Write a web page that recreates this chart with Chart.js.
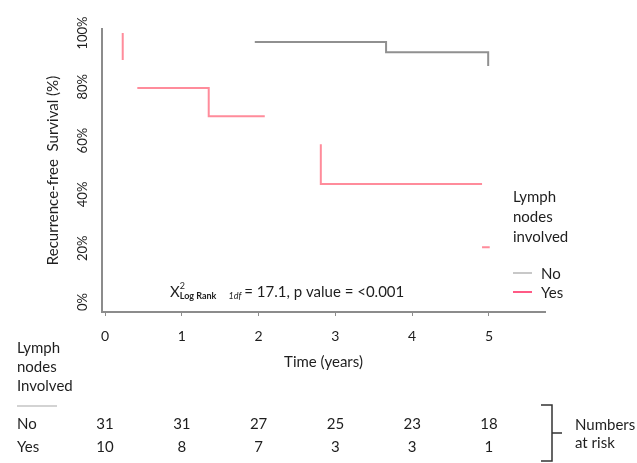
<!DOCTYPE html>
<html>
<head>
<meta charset="utf-8">
<script src="https://cdn.jsdelivr.net/npm/chart.js@4.4.1/dist/chart.umd.min.js"></script>
<style>
  html, body { margin: 0; padding: 0; background: #fff; }
  canvas { display: block; }
</style>
</head>
<body>
<canvas id="kmChart" width="637" height="463"></canvas>
<script>
const FONT = "Lato, 'Open Sans', sans-serif";
const TEXT = "#1e1e1e";

// axis ticks
const timeTicks = [0, 1, 2, 3, 4, 5];
const survTicks = [0, 20, 40, 60, 80, 100];

// survival curves (null = gap in the drawn curve)
const noTime = [1.95, 3.66, 3.66, 4.99, 4.99];
const noSurv = [96.7, 96.7, 92.9, 92.9, 87.7];
const yesTime = [0.23, 0.23, null, 0.42, 1.35, 1.35, 2.08, null, 2.81, 2.81, 4.91, null, 4.91, 5.01];
const yesSurv = [100, 90, null, 79.6, 79.6, 69.1, 69.1, null, 58.7, 43.9, 43.9, null, 20.4, 20.4];

// numbers at risk
const groups = ["No", "Yes"];
const riskTimes = [0, 1, 2, 3, 4, 5];
const riskNo = [31, 31, 27, 25, 23, 18];
const riskYes = [10, 8, 7, 3, 3, 1];

const noColor = "#909090";
const yesColor = "#ff8c9b";

function toPoints(times, surv) {
  return times.map((t, i) => ({ x: t, y: surv[i] }));
}

function font(size, weight) {
  return (weight || "normal") + " " + size + "px " + FONT;
}

// extra pieces drawn with the canvas: annotation, legend, risk table
const extras = {
  id: "extras",
  afterDraw(chart) {
    const { ctx } = chart;
    const x = chart.scales.x;
    ctx.save();
    ctx.fillStyle = TEXT;
    ctx.textBaseline = "middle";
    ctx.textAlign = "left";

    // log rank text
    let ax = 170;
    const ay = 292;
    ctx.font = font(15);
    ctx.fillText("Χ", ax, ay);
    ax += ctx.measureText("Χ").width;
    ctx.font = font(9);
    ctx.fillText("2", ax, ay - 6);
    ctx.font = font(9, "bold");
    ctx.fillText("Log Rank", ax, ay + 4);
    ax += ctx.measureText("Log Rank").width + 12;
    ctx.font = font(9, "italic");
    ctx.fillText("1df", ax, ay + 4);
    ax += ctx.measureText("1df").width + 3;
    ctx.font = font(15);
    ctx.fillText("= 17.1, p value = <0.001", ax, ay);

    // legend
    ctx.font = font(15);
    ["Lymph", "nodes", "involved"].forEach((s, i) => ctx.fillText(s, 513, 197 + i * 20));
    ctx.lineWidth = 2;
    ctx.strokeStyle = "#c8c8c8";
    ctx.beginPath(); ctx.moveTo(513, 273); ctx.lineTo(532, 273); ctx.stroke();
    ctx.strokeStyle = "#ff5a85";
    ctx.beginPath(); ctx.moveTo(513, 292); ctx.lineTo(532, 292); ctx.stroke();
    ctx.fillText(groups[0], 541, 274);
    ctx.fillText(groups[1], 541, 293);

    // risk table
    ["Lymph", "nodes", "Involved"].forEach((s, i) => ctx.fillText(s, 17, 348 + i * 19));
    ctx.strokeStyle = "#c4c4c4";
    ctx.lineWidth = 1.5;
    ctx.beginPath(); ctx.moveTo(17, 406); ctx.lineTo(57, 406); ctx.stroke();
    ctx.fillText(groups[0], 17, 424);
    ctx.fillText(groups[1], 17, 447);
    ctx.textAlign = "center";
    riskTimes.forEach((t, i) => {
      const px = x.getPixelForValue(t);
      ctx.fillText(String(riskNo[i]), px, 424);
      ctx.fillText(String(riskYes[i]), px, 447);
    });

    // bracket
    ctx.strokeStyle = "#333";
    ctx.lineWidth = 1.5;
    ctx.beginPath();
    ctx.moveTo(541, 405); ctx.lineTo(552, 405); ctx.lineTo(552, 461); ctx.lineTo(541, 461);
    ctx.moveTo(552, 433); ctx.lineTo(562, 433);
    ctx.stroke();
    ctx.textAlign = "left";
    ctx.fillText("Numbers", 575, 425);
    ctx.fillText("at risk", 575, 443);
    ctx.restore();
  }
};

new Chart(document.getElementById("kmChart"), {
  type: "line",
  data: {
    datasets: [
      {
        label: groups[0],
        data: toPoints(noTime, noSurv),
        borderColor: noColor,
        borderWidth: 2,
        pointRadius: 0,
        tension: 0,
        spanGaps: false
      },
      {
        label: groups[1],
        data: toPoints(yesTime, yesSurv),
        borderColor: yesColor,
        borderWidth: 2,
        pointRadius: 0,
        tension: 0,
        spanGaps: false
      }
    ]
  },
  options: {
    responsive: false,
    animation: false,
    devicePixelRatio: 1,
    layout: { padding: { top: 29, right: 92, bottom: 0, left: 0 } },
    plugins: {
      legend: { display: false },
      tooltip: { enabled: false }
    },
    scales: {
      x: {
        type: "linear",
        min: -0.04,
        max: 5.73,
        afterBuildTicks: (s) => { s.ticks = timeTicks.map((v) => ({ value: v })); },
        afterFit: (s) => { s.height = 151; },
        grid: { display: true, drawOnChartArea: false, drawTicks: true, tickLength: 4, color: "#8c8c8c" },
        border: { display: true, color: "#8c8c8c", width: 2 },
        ticks: { font: { family: FONT, size: 14 }, color: TEXT, padding: 12, maxRotation: 0 },
        title: {
          display: true,
          text: "Time (years)",
          font: { family: FONT, size: 15 },
          color: TEXT,
          padding: { top: 0, bottom: 92 }
        }
      },
      y: {
        type: "linear",
        min: -3.7,
        max: 101.5,
        afterBuildTicks: (s) => { s.ticks = survTicks.map((v) => ({ value: v })); },
        afterFit: (s) => { s.width = 102; },
        grid: { display: false, drawTicks: false },
        border: { display: true, color: "#8c8c8c", width: 2 },
        ticks: {
          font: { family: FONT, size: 13 },
          color: TEXT,
          minRotation: 90,
          maxRotation: 90,
          crossAlign: "center",
          padding: 3,
          callback: (v) => v + "%"
        },
        title: {
          display: true,
          text: "Recurrence-free  Survival (%)",
          font: { family: FONT, size: 15 },
          color: TEXT,
          padding: { top: 44, bottom: 0 }
        }
      }
    }
  },
  plugins: [extras]
});
</script>
</body>
</html>
